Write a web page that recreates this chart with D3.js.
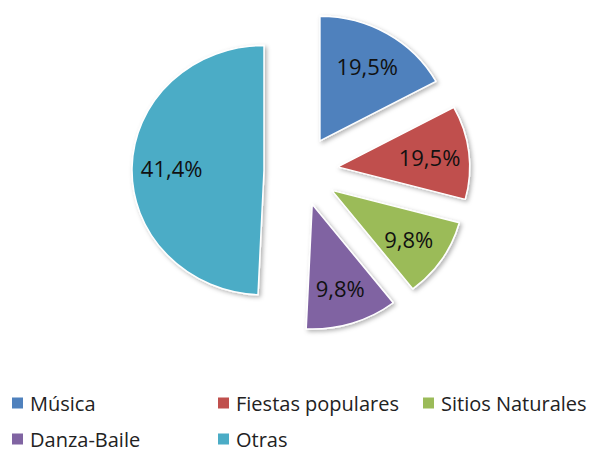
<!DOCTYPE html>
<html>
<head>
<meta charset="utf-8">
<script src="https://cdn.jsdelivr.net/npm/d3@7"></script>
<style>
  body { margin: 0; background: #fff; }
  svg { display: block; }
</style>
</head>
<body>
<div id="chart"></div>
<script>
// categorias y valores (las porciones, las etiquetas tal como aparecen)
const categorias = ["Música", "Fiestas populares", "Sitios Naturales", "Danza-Baile", "Otras"];
const porciones = [17.1, 12.1, 10.3, 11.25, 49.3];
const etiquetas = ["19,5%", "19,5%", "9,8%", "9,8%", "41,4%"];
const colores = ["#4F81BD", "#C0504D", "#9BBB59", "#8064A2", "#4BACC6"];

const svgWidth = 591, svgHeight = 451;
const cx = 301, cy = 171, radio = 132, separacion = 37;
const achatado = 0.945; // el circulo se ve algo aplastado en vertical

const svg = d3.select("#chart")
    .append("svg")
    .attr("width", svgWidth)
    .attr("height", svgHeight);

// sombra suave
const defs = svg.append("defs");
const filtro = defs.append("filter").attr("id", "sombra")
    .attr("x", "-20%").attr("y", "-20%").attr("width", "140%").attr("height", "140%");
filtro.append("feDropShadow")
    .attr("dx", 2).attr("dy", 2).attr("stdDeviation", 2)
    .attr("flood-color", "#000").attr("flood-opacity", 0.3);

const datos = categorias.map((c, i) => ({ categoria: c, valor: porciones[i], etiqueta: etiquetas[i], color: colores[i] }));

const pie = d3.pie().sort(null).value(d => d.valor);
const arco = d3.arc().innerRadius(0).outerRadius(radio);
const arcoEtiqueta = d3.arc().innerRadius(radio * 0.7).outerRadius(radio * 0.7);

const desplazar = d => {
    const a = (d.startAngle + d.endAngle) / 2;
    return [Math.sin(a) * separacion, -Math.cos(a) * separacion];
};

const g = svg.append("g").attr("transform", `translate(${cx}, ${cy}) scale(1, ${achatado})`);

const arcos = pie(datos);

g.selectAll(".trozo")
    .data(arcos)
    .enter()
    .append("path")
    .attr("class", "trozo")
    .attr("transform", d => `translate(${desplazar(d)})`)
    .attr("d", arco)
    .attr("fill", d => d.data.color)
    .attr("stroke", "#fff")
    .attr("stroke-width", 1.5)
    .attr("stroke-linejoin", "round")
    .attr("filter", "url(#sombra)");

// Etiquetas (fuera del grupo aplastado para no deformar el texto)
svg.append("g")
    .selectAll(".etiqueta")
    .data(arcos)
    .enter()
    .append("text")
    .attr("class", "etiqueta")
    .attr("x", d => cx + desplazar(d)[0] + arcoEtiqueta.centroid(d)[0])
    .attr("y", d => cy + (desplazar(d)[1] + arcoEtiqueta.centroid(d)[1]) * achatado)
    .attr("text-anchor", "middle")
    .attr("dominant-baseline", "central")
    .style("font-family", "'Open Sans', sans-serif")
    .style("font-size", "22px")
    .attr("fill", "#111")
    .text(d => d.data.etiqueta);

// Leyenda
const colX = [12, 218, 423];
const filaY = [403, 439];
const leyenda = svg.append("g")
    .selectAll(".item")
    .data(datos)
    .enter()
    .append("g")
    .attr("class", "item")
    .attr("transform", (d, i) => `translate(${colX[i % 3]}, ${filaY[Math.floor(i / 3)]})`);

leyenda.append("rect")
    .attr("x", 0).attr("y", -5.5)
    .attr("width", 11).attr("height", 11)
    .attr("fill", d => d.color);

leyenda.append("text")
    .attr("x", 18)
    .attr("dominant-baseline", "central")
    .style("font-family", "'Open Sans', sans-serif")
    .style("font-size", "20px")
    .attr("fill", "#222")
    .text(d => d.categoria);
</script>
</body>
</html>
